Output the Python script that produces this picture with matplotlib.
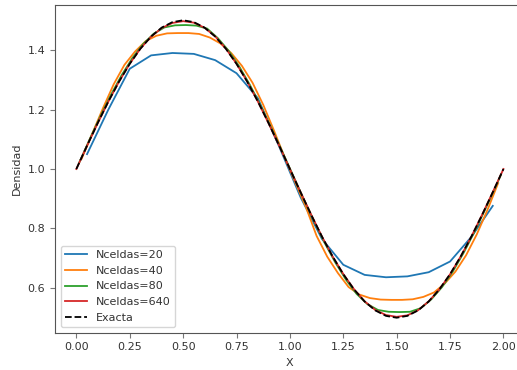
import matplotlib
matplotlib.use("Agg")
import matplotlib.pyplot as plt

# exact solution, sampled every 0.05
x_exact = [i * 0.05 for i in range(41)]
rho_exact = [1.0, 1.0782, 1.1545, 1.2270, 1.2939, 1.3536, 1.4045, 1.4455, 1.4755, 1.4938,
             1.5, 1.4938, 1.4755, 1.4455, 1.4045, 1.3536, 1.2939, 1.2270, 1.1545, 1.0782,
             1.0, 0.9218, 0.8455, 0.7730, 0.7061, 0.6464, 0.5955, 0.5545, 0.5245, 0.5062,
             0.5, 0.5062, 0.5245, 0.5545, 0.5955, 0.6464, 0.7061, 0.7730, 0.8455, 0.9218, 1.0]

# Nceldas=20 (cell centres)
x_20 = [0.05 + 0.1 * i for i in range(20)]
rho_20 = [1.05, 1.20, 1.337, 1.382, 1.390, 1.387, 1.366, 1.322, 1.238, 1.075,
          0.905, 0.765, 0.678, 0.644, 0.636, 0.639, 0.653, 0.689, 0.772, 0.876]

# Nceldas=40
x_40 = [0.025 + 0.05 * i for i in range(40)]
rho_40 = [1.035, 1.12, 1.205, 1.285, 1.35, 1.395, 1.43, 1.448, 1.456, 1.457,
          1.457, 1.454, 1.442, 1.422, 1.39, 1.347, 1.29, 1.216, 1.13, 1.04,
          0.955, 0.872, 0.775, 0.705, 0.65, 0.603, 0.578, 0.566, 0.561, 0.56,
          0.56, 0.562, 0.57, 0.585, 0.615, 0.655, 0.71, 0.78, 0.862, 0.952]

# Nceldas=80 (every other cell plus the last one)
x_80 = [0.0125 + 0.05 * i for i in range(40)] + [1.9875]
rho_80 = [1.02, 1.10, 1.177, 1.25, 1.316, 1.373, 1.42, 1.455, 1.476, 1.483,
          1.484, 1.482, 1.472, 1.44, 1.398, 1.345, 1.283, 1.213, 1.139, 1.061,
          0.982, 0.902, 0.825, 0.752, 0.686, 0.628, 0.58, 0.546, 0.526, 0.52,
          0.519, 0.52, 0.532, 0.562, 0.603, 0.655, 0.717, 0.786, 0.861, 0.939, 0.979]

# Nceldas=640 (sampled every 0.05)
x_640 = x_exact
rho_640 = [1.0, 1.078, 1.154, 1.227, 1.294, 1.354, 1.405, 1.445, 1.474, 1.491,
           1.497, 1.492, 1.475, 1.446, 1.405, 1.354, 1.294, 1.227, 1.154, 1.078,
           1.0, 0.922, 0.846, 0.773, 0.706, 0.647, 0.596, 0.555, 0.526, 0.509,
           0.503, 0.508, 0.525, 0.555, 0.595, 0.646, 0.706, 0.773, 0.846, 0.922, 1.0]

plt.rcParams['font.size'] = 8
plt.rcParams['text.color'] = '#333333'
plt.rcParams['axes.labelcolor'] = '#333333'
plt.rcParams['xtick.labelcolor'] = '#333333'
plt.rcParams['ytick.labelcolor'] = '#333333'
plt.rcParams['xtick.color'] = '#777777'
plt.rcParams['ytick.color'] = '#777777'
plt.rcParams['axes.edgecolor'] = '#555555'

fig = plt.figure(figsize=(5.17, 3.70), dpi=100)
ax = fig.add_axes([55 / 517, 0.1011, 0.9087, 0.8843])

lw = 1.3
ax.plot(x_20, rho_20, color='tab:blue', lw=lw, label='Nceldas=20')
ax.plot(x_40, rho_40, color='tab:orange', lw=lw, label='Nceldas=40')
ax.plot(x_80, rho_80, color='tab:green', lw=lw, label='Nceldas=80')
ax.plot(x_640, rho_640, color='tab:red', lw=lw, label='Nceldas=640')
ax.plot(x_exact, rho_exact, 'k--', lw=lw, label='Exacta')

ax.set_xlim(-0.1, 2.1)
ax.set_ylim(0.45, 1.55)
ax.set_xticks([0.0, 0.25, 0.5, 0.75, 1.0, 1.25, 1.5, 1.75, 2.0])
ax.set_xticklabels(['0.00', '0.25', '0.50', '0.75', '1.00', '1.25', '1.50', '1.75', '2.00'])
ax.set_yticks([0.6, 0.8, 1.0, 1.2, 1.4])
ax.set_xlabel('X')
ax.set_ylabel('Densidad')
ax.legend(loc='lower left', fontsize=8)

fig.savefig('out.png', dpi=100)
